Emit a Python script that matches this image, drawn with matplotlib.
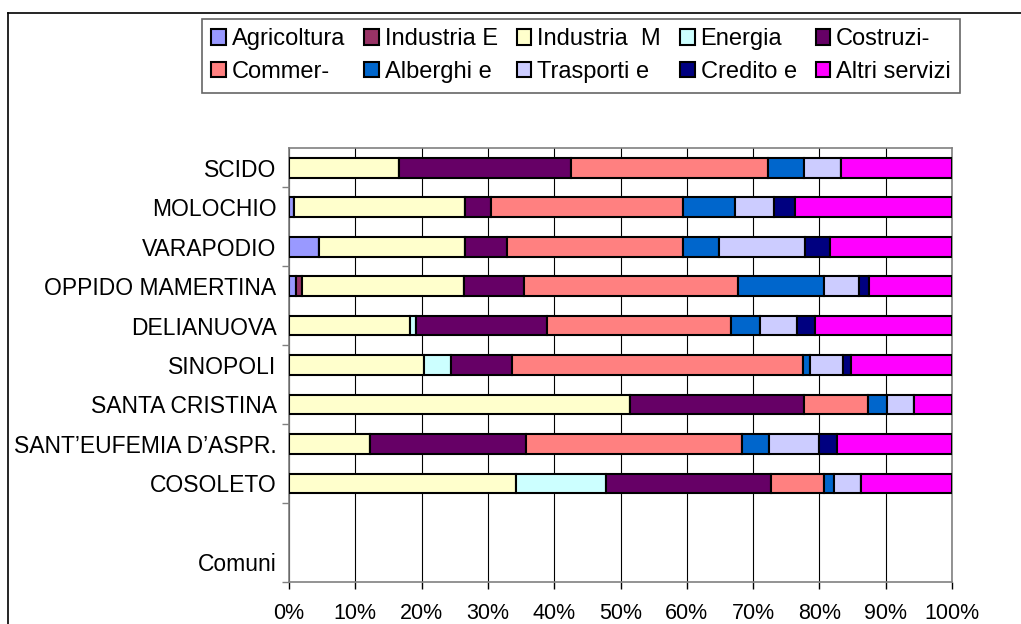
import numpy as np
import matplotlib.pyplot as plt
from matplotlib.lines import Line2D

plt.rcParams['font.family'] = ['Liberation Sans', 'DejaVu Sans']

# data (comuni from bottom to top, as in the sheet)
comuni = ['COSOLETO', 'SANT\u2019EUFEMIA D\u2019ASPR.', 'SANTA CRISTINA', 'SINOPOLI',
          'DELIANUOVA', 'OPPIDO MAMERTINA', 'VARAPODIO', 'MOLOCHIO', 'SCIDO']
settori = ['Agricoltura', 'Industria E', 'Industria  M', 'Energia', 'Costruzi-',
           'Commer-', 'Alberghi e', 'Trasporti e', 'Credito e', 'Altri servizi']

agricoltura = [0, 0, 0, 0, 0, 1.1, 4.6, 0.7, 0]
industria_e = [0, 0, 0, 0, 0, 0.9, 0, 0, 0]
industria_m = [34.2, 12.2, 51.4, 20.4, 18.2, 24.4, 22.0, 25.9, 16.6]
energia = [13.6, 0, 0, 4.1, 1.0, 0, 0, 0, 0]
costruzioni = [24.9, 23.5, 26.3, 9.2, 19.7, 9.1, 6.3, 3.9, 26.0]
commercio = [8.0, 32.7, 9.6, 43.8, 27.7, 32.2, 26.6, 29.0, 29.6]
alberghi = [1.5, 4.0, 2.9, 1.1, 4.5, 13.0, 5.4, 7.7, 5.5]
trasporti = [4.1, 7.6, 4.0, 5.0, 5.5, 5.2, 12.9, 5.9, 5.6]
credito = [0, 2.7, 0, 1.1, 2.8, 1.6, 3.8, 3.2, 0]
altri = [13.7, 17.3, 5.8, 15.3, 20.6, 12.5, 18.4, 23.7, 16.7]

colori = ['#9999FF', '#993366', '#FFFFCC', '#CCFFFF', '#660066',
          '#FF8080', '#0066CC', '#CCCCFF', '#000080', '#FF00FF']


def main():
    serie = [agricoltura, industria_e, industria_m, energia, costruzioni,
             commercio, alberghi, trasporti, credito, altri]
    dati = np.array(serie, dtype=float)
    dati = dati / dati.sum(axis=0) * 100

    # two empty rows at the bottom: "Comuni" and a blank one
    etichette = ['Comuni', ''] + comuni
    y = np.arange(2, 2 + len(comuni))

    fig = plt.figure(figsize=(10.21, 6.24), dpi=100)
    ax = fig.add_axes([289 / 1021, 1 - 582 / 624, 663 / 1021, 434 / 624])

    left = np.zeros(len(comuni))
    handles = []
    for i, vals in enumerate(dati):
        b = ax.barh(y, vals, 0.5, left=left, color=colori[i],
                    edgecolor='black', linewidth=1.5, label=settori[i], zorder=3)
        handles.append(b)
        left += vals

    ax.set_xlim(0, 100)
    ax.set_ylim(-0.5, len(etichette) - 0.5)
    ax.set_xticks(np.arange(0, 101, 10))
    ax.set_xticklabels([f'{v}%' for v in range(0, 101, 10)])
    ax.set_yticks(np.arange(len(etichette)))
    ax.set_yticklabels(etichette)
    ax.set_yticks(np.arange(-0.5, len(etichette) - 1, 2), minor=True)
    ax.tick_params(axis='y', which='major', length=0, pad=9, labelsize=16.5)
    ax.tick_params(axis='y', which='minor', length=5, width=1, color='#808080')
    ax.tick_params(axis='x', length=5, width=1, color='black', pad=10, labelsize=15.5)
    ax.xaxis.grid(True, color='black', linewidth=0.8, zorder=1)
    ax.set_axisbelow(True)
    for s in ax.spines.values():
        s.set_color('#808080')
        s.set_linewidth(1.2)

    # legend: 5 columns x 2 rows, filled row by row
    order = [0, 5, 1, 6, 2, 7, 3, 8, 4, 9]
    leg = fig.legend([handles[k] for k in order], [settori[k] for k in order],
                     ncol=5, loc='upper left',
                     bbox_to_anchor=(202 / 1021, 1 - 19 / 624),
                     fontsize=17, handlelength=0.62, handleheight=0.62,
                     handletextpad=0.25, columnspacing=0.8, labelspacing=0.45,
                     borderpad=0.4, borderaxespad=0, fancybox=False, frameon=True)
    leg.get_frame().set_edgecolor('#404040')
    leg.get_frame().set_linewidth(1.2)

    # chart area border (left and top visible)
    fig.add_artist(Line2D([8 / 1021, 8 / 1021], [0, 1 - 13 / 624], color='black',
                          linewidth=1.2, transform=fig.transFigure))
    fig.add_artist(Line2D([8 / 1021, 1], [1 - 13 / 624, 1 - 13 / 624], color='black',
                          linewidth=1.2, transform=fig.transFigure))

    fig.savefig('out.png', dpi=100)


if __name__ == "__main__":
    main()
